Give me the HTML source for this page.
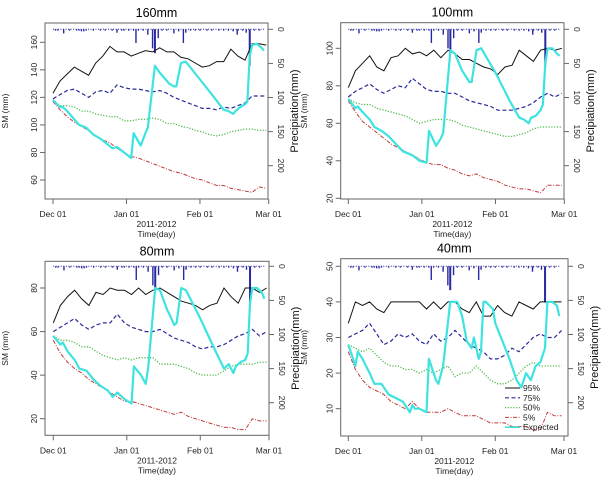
<!DOCTYPE html>
<html><head><meta charset="utf-8"><style>
html,body{margin:0;padding:0;background:#fff;}
svg{display:block;font-family:"Liberation Sans",Arial,sans-serif;}
</style></head><body>
<svg id="chart" width="610" height="484" viewBox="0 0 610 484" xmlns="http://www.w3.org/2000/svg"></svg>
<script>
// ---- shared data ----
const pctDays = [0,3,6,9,12,15,18,21,24,27,30,33,36,39,42,45,48,51,54,57,60,63,66,69,72,75,78,81,84,87,90];
const xTickLabels = ["Dec 01","Jan 01","Feb 01","Mar 01"];
const xTickDays = [0,31,62,91];
const precipTicks = [0,50,100,150,200];
const rainDays = [1,2,4.5,7,10,11,12,13,14,17,20,22,25,27,29,30,32,34,35,36,38,40,42,43,44.4,46,48,51,53,55,56,58,60,62,65,67,70,72,74,76,77.7,78,80,81.5,83,85,87];
const rainMm   = [2,2,6,2,2,2,3,3,2,2,2,2,2,5,2,2,2,2,20,2,2,8,28,35,13,2,2,6,3,20,5,2,2,2,2,2,2,2,2,3,8,2,2,5,53,2,2];
// ---- 160mm ----
const p160_95 = [123,132,137,142,139,136,145,150,157,153,153,150,152,154,153,156,153,153,149,148,145,142,143,146,146,155,150,147,159,159,158];
const p160_75 = [119,122,125,126,123,120,124,125,123,129,127,126,126,125,124,125,123,120,118,116,114,112,112,111,113,112,114,116,121,121,121];
const p160_50 = [117,114,114,113,110,110,108,107,106,106,103,103,104,104,105,104,101,101,99,98,96,95,93,92,93,95,96,97,97,96,96];
const p160_5  = [117,111,106,102,99,96,92,89,87,83,80,77,76,74,72,70,68,66,65,63,61,60,58,56,56,54,53,52,51,55,54];
const e160Days = [0,3,4,6,9,11,14,17,20,23,25,27,30,33,34,37,39,40,43,45,48,49,51,52,54,56,62,68,72,74,76,77,79,81,82,83,84,86,88,89];
const e160Vals = [118,113,113,110,104,100,98,93,90,86,83,84,80,76,94,85,94,98,143,138,132,130,128,128,145,146,133,120,111,110,108,110,113,115,117,150,158,159,156,154];
// ---- 100mm ----
const p100_95 = [79,88,92,96,90,88,95,96,100,97,98,96,99,95,99,97,94,94,92,90,89,86,90,91,99,96,93,99,100,99,100];
const p100_75 = [74,77,79,81,78,76,78,80,79,84,81,78,77,77,76,76,74,72,71,70,69,67,67,67,68,69,71,74,76,74,76];
const p100_50 = [73,71,70,70,68,67,66,65,64,62,60,61,62,62,62,61,59,58,57,56,55,54,53,53,54,55,57,58,58,58,58];
const p100_5  = [72,66,61,58,55,52,49,47,45,43,41,39,38,38,36,35,33,32,33,31,30,29,27,26,25,25,24,23,27,27,27];
const e100Days = [0,3,4,6,9,11,14,17,20,23,25,27,30,33,34,37,39,40,43,45,48,49,51,52,54,56,62,68,72,74,76,77,79,81,82,83,84,86,88,89];
const e100Vals = [73,68,69,66,62,58,56,53,49,45,44,43,40,39,56,48,52,55,99,97,88,86,82,82,99,100,87,72,63,62,60,63,64,67,70,92,100,100,97,96];
// ---- 80mm ----
const p80_95 = [64,72,76,79,75,72,78,77,80,79,79,77,80,77,79,80,78,76,74,73,72,70,72,73,80,76,73,80,80,78,80];
const p80_75 = [60,62,64,66,63,61,63,64,64,68,64,62,61,60,60,61,59,57,56,55,53,52,53,53,54,56,58,59,61,58,60];
const p80_50 = [58,56,56,55,53,53,51,49,48,47,48,47,48,48,48,45,45,45,44,43,41,40,40,40,42,44,45,45,45,46,46];
const p80_5  = [56,50,46,43,41,38,36,34,32,30,28,28,27,26,25,24,23,22,23,21,20,19,18,17,16,16,15,15,20,19,19];
const e80Days = [0,3,4,6,9,11,14,17,20,23,25,27,30,33,34,37,39,40,43,45,48,49,51,52,54,56,62,68,72,74,76,77,79,81,82,83,84,86,88,89];
const e80Vals = [58,54,55,51,47,43,42,38,35,33,30,32,29,27,44,40,36,43,80,79,70,68,63,64,80,79,66,52,43,45,41,44,46,47,50,73,80,80,78,75];
// ---- 40mm ----
const p40_95 = [34,40,39,40,38,37,40,40,40,40,40,38,40,38,40,40,38,37,40,36,36,39,37,36,40,39,38,40,40,40,40];
const p40_75 = [30,31,32,34,31,28,29,31,30,31,29,28,31,29,30,32,30,28,27,26,24,24,25,27,26,28,30,31,30,30,32];
const p40_50 = [28,27,26,27,25,23,22,22,21,21,20,21,20,21,22,19,20,20,22,20,18,17,17,18,20,22,23,22,22,22,22];
const p40_5  = [26,21,18,16,15,14,12,11,10,12,10,9,9,9,10,9,8,8,8,7,6,6,6,5,5,5,4,4,9,8,8];
const e40Days = [0,3,4,6,9,11,14,17,20,23,25,26,27,28,30,33,34,37,38,40,43,46,48,50,52,53,55,56,57,58,61,62,68,71,73,75,77,79,81,83,84,86,88,89];
const e40Vals = [28,22,26,24,20,17,17,14,13,12,10,9,11,10,10,9,24,18,17,22,40,40,36,29,27,30,24,26,40,40,38,34,24,18,16,20,18,22,23,27,40,40,39,36];

// ---- geometry (layout only) ----
const NS="http://www.w3.org/2000/svg";
const svg=document.getElementById('chart');
function mk(tag,attrs,parent){const e=document.createElementNS(NS,tag);for(const k in attrs)e.setAttribute(k,attrs[k]);(parent||svg).appendChild(e);return e;}
const panels=[
 {key:'160mm',title:'160mm',x0:45,x1:268,y0:23,y1:199,d0:53,d91:268.7,smA:160,smAy:42.3,smB:60,smBy:180,smTicks:[60,80,100,120,140,160],pTop:29.3,p200:165.7,ylx:8,p95:p160_95,p75:p160_75,p50:p160_50,p5:p160_5,ed:e160Days,ev:e160Vals},
 {key:'100mm',title:'100mm',x0:340.7,x1:564,y0:22.7,y1:199,d0:348.3,d91:564.3,smA:100,smAy:48.3,smB:20,smBy:198.3,smTicks:[20,40,60,80,100],pTop:29.3,p200:165.7,ylx:307,p95:p100_95,p75:p100_75,p50:p100_50,p5:p100_5,ed:e100Days,ev:e100Vals},
 {key:'80mm',title:'80mm',x0:45,x1:269,y0:261.3,y1:435.3,d0:53.3,d91:269,smA:80,smAy:288,smB:20,smBy:418.7,smTicks:[20,40,60,80],pTop:266.3,p200:402.7,ylx:8,p95:p80_95,p75:p80_75,p50:p80_50,p5:p80_5,ed:e80Days,ev:e80Vals},
 {key:'40mm',title:'40mm',x0:340.7,x1:568,y0:258.7,y1:436,d0:348.3,d91:564,smA:50,smAy:266.3,smB:10,smBy:408.7,smTicks:[10,20,30,40,50],pTop:266.3,p200:402.7,ylx:307,p95:p40_95,p75:p40_75,p50:p40_50,p5:p40_5,ed:e40Days,ev:e40Vals}
];
const styles={
 p95:{c:'#111',w:1,da:''},
 p75:{c:'#2a2a9a',w:1.2,da:'4 2.5'},
 p50:{c:'#4cbb4c',w:1.3,da:'1.2 1.6'},
 p5:{c:'#c03a3a',w:1,da:'4 1.5 1 1.5'}
};
panels.forEach(P=>{
 const g=mk('g',{});
 
 
 const xs=d=>P.d0+(P.d91-P.d0)*d/91;
 const ys=v=>P.smAy+(P.smBy-P.smAy)*(v-P.smA)/(P.smB-P.smA);
 const yp=v=>P.pTop+(P.p200-P.pTop)*v/200;
 // box
 const box=mk('rect',{x:P.x0,y:P.y0,width:P.x1-P.x0,height:P.y1-P.y0,fill:'none',stroke:'#666','stroke-width':1},g);
 
 
 // title
 const t=mk('text',{x:(P.x0+P.x1)/2,y:P.y0-6,'text-anchor':'middle','font-size':12.5,fill:'#000'},g);
 t.textContent=P.title;
 
 
 // x axis
 xTickDays.forEach((d,i)=>{
  const x=xs(d);
  mk('line',{x1:x,y1:P.y1,x2:x,y2:P.y1+5,stroke:'#666'},g);
  const l=mk('text',{x:x,y:P.y1+18,'text-anchor':'middle','font-size':8.5,fill:'#222'},g);
  l.textContent=xTickLabels[i];
  
  
 });
 const xc=(P.x0+P.x1)/2;
 const xl1=mk('text',{x:xc,y:P.y1+28,'text-anchor':'middle','font-size':8.5,fill:'#222'},g);
 xl1.textContent='2011-2012';
 
 
 const xl2=mk('text',{x:xc,y:P.y1+38,'text-anchor':'middle','font-size':8.5,fill:'#222'},g);
 xl2.textContent='Time(day)';
 
 
 // left axis
 P.smTicks.forEach(v=>{
  const y=ys(v);
  mk('line',{x1:P.x0,y1:y,x2:P.x0-5,y2:y,stroke:'#666'},g);
  const l=mk('text',{x:0,y:0,'text-anchor':'middle','font-size':8.5,fill:'#222',transform:`translate(${P.x0-8},${y}) rotate(-90)`},g);
  l.textContent=v;
  
  
 });
 const yl=mk('text',{x:0,y:0,'text-anchor':'middle','font-size':8.5,fill:'#222',transform:`translate(${P.ylx},${(P.y0+P.y1)/2}) rotate(-90)`},g);
 yl.textContent='SM (mm)';
 
 
 // right axis
 precipTicks.forEach(v=>{
  const y=yp(v);
  mk('line',{x1:P.x1,y1:y,x2:P.x1+5,y2:y,stroke:'#666'},g);
  const l=mk('text',{x:0,y:0,'text-anchor':'middle','font-size':8.5,fill:'#222',transform:`translate(${P.x1+10},${y}) rotate(90)`},g);
  l.textContent=v;
  
  
 });
 const pl=mk('text',{x:0,y:0,'text-anchor':'middle','font-size':11,fill:'#111',transform:`translate(${P.x1+30},${(P.y0+P.y1)/2}) rotate(-90)`},g);
 pl.textContent='Precipiation(mm)';
 
 
 // precip baseline + bars
 const base=mk('line',{x1:xs(0),y1:yp(0),x2:xs(89),y2:yp(0),stroke:'#2828a0','stroke-width':1,'stroke-dasharray':'1 1.5'},g);
 
 
 rainDays.forEach((d,i)=>{
  const b=mk('line',{x1:xs(d),y1:yp(0),x2:xs(d),y2:yp(rainMm[i]),stroke:'#2828a0','stroke-width':rainMm[i]>30?2:1.4},g);
  
  
 });
 // percentile lines
 ['p95','p75','p50','p5'].forEach(k=>{
  const s=styles[k];
  const pts=P[k].map((v,i)=>xs(pctDays[i]).toFixed(1)+','+ys(v).toFixed(1)).join(' ');
  const pl2=mk('polyline',{points:pts,fill:'none',stroke:s.c,'stroke-width':s.w,'stroke-dasharray':s.da},g);
  
  
 });
 const ept=P.ev.map((v,i)=>xs(P.ed[i]).toFixed(1)+','+ys(v).toFixed(1)).join(' ');
 const ex=mk('polyline',{points:ept,fill:'none',stroke:'#3ee3e0','stroke-width':2.2,'stroke-linejoin':'round'},g);
 
 
});
// legend in 40mm panel
const legNames=['95%','75%','50%','5%','Expected'];
const legKeys=['p95','p75','p50','p5','exp'];
const lg=mk('g',{});


legNames.forEach((n,i)=>{
 const y=388+i*9.8;
 const s=styles[legKeys[i]]||{c:'#3ee3e0',w:1.6,da:''};
 const ln=mk('line',{x1:505,y1:y,x2:520,y2:y,stroke:s.c,'stroke-width':s.w,'stroke-dasharray':s.da},lg);
 
 
 const tx=mk('text',{x:523,y:y+3,'font-size':8.5,fill:'#222'},lg);
 tx.textContent=n;
 
 
});
</script>
</body></html>
